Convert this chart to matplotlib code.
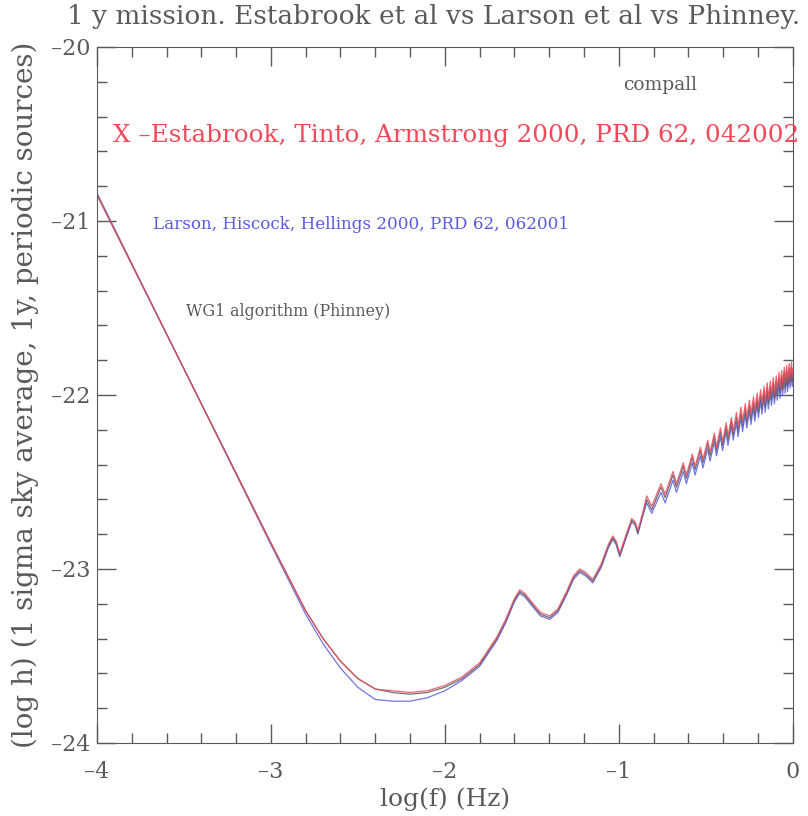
import numpy as np
import matplotlib
matplotlib.use('Agg')
import matplotlib.pyplot as plt
from matplotlib.ticker import MultipleLocator

# log f (Hz) and log h
# low-frequency part
logf_low = [-4.0, -3.5, -3.0, -2.8, -2.7, -2.6, -2.5, -2.4, -2.3, -2.2, -2.1,
            -2.0, -1.9, -1.8, -1.7, -1.65, -1.6, -1.569, -1.54, -1.5, -1.45,
            -1.397, -1.35, -1.3, -1.26, -1.224, -1.19, -1.149, -1.1, -1.06,
            -1.034, -1.015, -0.994, -0.96, -0.925, -0.905, -0.89, -0.86]
logh_low_phinney = [-20.85, -21.85, -22.85, -23.24, -23.40, -23.53, -23.63,
                    -23.69, -23.71, -23.72, -23.71, -23.68, -23.63, -23.55,
                    -23.40, -23.30, -23.18, -23.13, -23.15, -23.20, -23.26,
                    -23.28, -23.24, -23.14, -23.05, -23.01, -23.03, -23.07,
                    -22.98, -22.87, -22.82, -22.85, -22.92, -22.82, -22.72,
                    -22.74, -22.79, -22.68]
logh_low_estabrook = [-20.85, -21.85, -22.85, -23.24, -23.40, -23.53, -23.63,
                      -23.69, -23.70, -23.71, -23.70, -23.67, -23.62, -23.54,
                      -23.39, -23.29, -23.17, -23.12, -23.14, -23.19, -23.25,
                      -23.27, -23.23, -23.13, -23.04, -23.00, -23.02, -23.06,
                      -22.97, -22.86, -22.81, -22.84, -22.91, -22.81, -22.71,
                      -22.73, -22.78, -22.67]
logh_low_larson = [-20.84, -21.85, -22.86, -23.26, -23.43, -23.57, -23.68,
                   -23.75, -23.76, -23.76, -23.74, -23.70, -23.64, -23.56,
                   -23.41, -23.31, -23.19, -23.14, -23.16, -23.21, -23.27,
                   -23.29, -23.25, -23.15, -23.06, -23.02, -23.04, -23.08,
                   -22.99, -22.88, -22.83, -22.86, -22.93, -22.83, -22.73,
                   -22.75, -22.80, -22.69]

# high-frequency comb: peak / trough positions
logf_high = [-0.839, -0.810, -0.757, -0.733, -0.688, -0.668, -0.629, -0.611,
             -0.577, -0.561, -0.530, -0.516, -0.488, -0.475, -0.450, -0.438,
             -0.415, -0.403, -0.382, -0.372, -0.352, -0.342, -0.323, -0.314,
             -0.297, -0.288, -0.272, -0.264, -0.248, -0.240, -0.225, -0.218,
             -0.204, -0.197, -0.184, -0.177, -0.164, -0.158, -0.146, -0.140,
             -0.128, -0.122, -0.111, -0.105, -0.094, -0.089, -0.078, -0.073,
             -0.063, -0.058, -0.048, -0.043, -0.034, -0.029, -0.020, -0.015,
             -0.007, -0.002, 0.0]
logh_high_phinney = [-22.60, -22.66, -22.53, -22.59, -22.46, -22.53, -22.41,
                     -22.48, -22.36, -22.43, -22.32, -22.39, -22.28, -22.35,
                     -22.24, -22.32, -22.21, -22.29, -22.18, -22.26, -22.15,
                     -22.23, -22.13, -22.21, -22.10, -22.18, -22.08, -22.16,
                     -22.06, -22.14, -22.04, -22.12, -22.02, -22.10, -22.00,
                     -22.08, -21.98, -22.07, -21.96, -22.05, -21.95, -22.03,
                     -21.93, -22.02, -21.92, -22.00, -21.90, -21.99, -21.89,
                     -21.97, -21.87, -21.96, -21.86, -21.95, -21.85, -21.93,
                     -21.84, -21.92, -21.88]
logh_high_estabrook = [-22.58, -22.64, -22.51, -22.57, -22.44, -22.51, -22.39,
                       -22.46, -22.34, -22.41, -22.30, -22.37, -22.26, -22.33,
                       -22.22, -22.30, -22.19, -22.27, -22.16, -22.24, -22.13,
                       -22.21, -22.10, -22.18, -22.07, -22.15, -22.05, -22.13,
                       -22.03, -22.11, -22.01, -22.09, -21.99, -22.07, -21.97,
                       -22.05, -21.95, -22.04, -21.93, -22.02, -21.92, -22.00,
                       -21.90, -21.99, -21.89, -21.97, -21.87, -21.96, -21.86,
                       -21.94, -21.84, -21.93, -21.83, -21.92, -21.82, -21.90,
                       -21.81, -21.89, -21.85]
logh_high_larson = [-22.62, -22.68, -22.56, -22.62, -22.49, -22.56, -22.44,
                    -22.51, -22.39, -22.46, -22.35, -22.42, -22.31, -22.38,
                    -22.27, -22.35, -22.24, -22.32, -22.21, -22.29, -22.18,
                    -22.26, -22.16, -22.24, -22.13, -22.21, -22.11, -22.19,
                    -22.09, -22.17, -22.07, -22.15, -22.05, -22.13, -22.03,
                    -22.11, -22.01, -22.10, -21.99, -22.08, -21.98, -22.06,
                    -21.96, -22.05, -21.95, -22.03, -21.93, -22.02, -21.92,
                    -22.00, -21.90, -21.99, -21.89, -21.98, -21.88, -21.96,
                    -21.87, -21.95, -21.91]

xticks = [-4, -3, -2, -1, 0]
xticklabels = ['\u20134', '\u20133', '\u20132', '\u20131', '0']
yticks = [-24, -23, -22, -21, -20]
yticklabels = ['\u201324', '\u201323', '\u201322', '\u201321', '\u201320']

title = '1 y mission. Estabrook et al vs Larson et al vs Phinney.'
ylabel = '(log h) (1 sigma sky average, 1y, periodic sources)'
xlabel = 'log(f) (Hz)'

grey = '#5a5a5a'
red = '#f04a5a'
blue = '#5a5ae0'

plt.rcParams['font.family'] = 'DejaVu Serif'

fig = plt.figure(figsize=(8.08, 8.16), dpi=100)
ax = fig.add_axes([0.120, 0.0895, 0.861, 0.853])

ax.plot(logf_low + logf_high, logh_low_larson + logh_high_larson,
        color=blue, lw=0.9, alpha=0.85)
ax.plot(logf_low + logf_high, logh_low_phinney + logh_high_phinney,
        color=grey, lw=0.9, alpha=0.85)
ax.plot(logf_low + logf_high, logh_low_estabrook + logh_high_estabrook,
        color=red, lw=0.9, alpha=0.85)

ax.set_xlim(-4, 0)
ax.set_ylim(-24, -20)
ax.xaxis.set_minor_locator(MultipleLocator(0.2))
ax.yaxis.set_minor_locator(MultipleLocator(0.2))
ax.set_xticks(xticks)
ax.set_xticklabels(xticklabels)
ax.set_yticks(yticks)
ax.set_yticklabels(yticklabels)
ax.tick_params(which='both', direction='in', top=True, right=True,
               color=grey, labelcolor=grey, labelsize=16)
ax.tick_params(which='major', length=14, width=1)
ax.tick_params(which='minor', length=7, width=1)
ax.tick_params(axis='x', which='major', pad=13)
ax.tick_params(axis='y', which='major', pad=5)
for s in ax.spines.values():
    s.set_color(grey)

ax.set_xlabel(xlabel, fontsize=18, color=grey, labelpad=3)
ax.set_ylabel(ylabel, fontsize=20, color=grey, labelpad=8)
fig.text(0.536, 0.980, title, fontsize=19, color=grey, ha='center', va='center')

ax.text(-0.76, -20.22, 'compall', fontsize=13.5, color=grey, ha='center', va='center')
ax.text(-3.91, -20.51, 'X \u2013Estabrook, Tinto, Armstrong 2000, PRD 62, 042002',
        fontsize=17.7, color=red, ha='left', va='center', clip_on=False)
ax.text(-3.68, -21.02, 'Larson, Hiscock, Hellings 2000, PRD 62, 062001',
        fontsize=12.1, color=blue, ha='left', va='center')
ax.text(-3.49, -21.52, 'WG1 algorithm (Phinney)', fontsize=11.4, color=grey,
        ha='left', va='center')

fig.savefig('out.png', dpi=100)
